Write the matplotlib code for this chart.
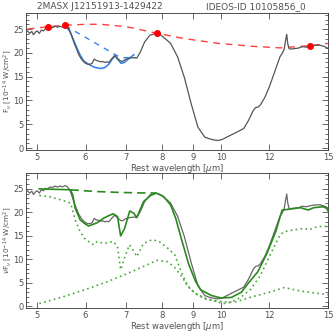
import numpy as np
import matplotlib
matplotlib.use("Agg")
import matplotlib.pyplot as plt
from matplotlib.ticker import MultipleLocator, NullLocator, FixedLocator, FixedFormatter

# ---- data ----
spec_wave = [4.82, 4.86, 4.90, 4.93, 4.97, 5.00, 5.04, 5.08, 5.12, 5.16, 5.20, 5.25, 5.30, 5.35,
             5.40, 5.45, 5.50, 5.55, 5.60, 5.65, 5.70, 5.75, 5.80, 5.85, 5.90, 5.95, 6.00, 6.05,
             6.10, 6.15, 6.20, 6.25, 6.30, 6.35, 6.40, 6.45, 6.50, 6.55, 6.60, 6.65, 6.70, 6.75,
             6.80, 6.85, 6.90, 6.95, 7.00, 7.10, 7.20, 7.28, 7.38, 7.50, 7.65, 7.83, 7.98, 8.10,
             8.27, 8.49, 8.71, 8.94, 9.17, 9.41, 9.60, 9.75, 9.90, 10.05, 10.30, 10.60, 10.90, 11.10,
             11.30, 11.40, 11.50, 11.60, 11.80, 12.00, 12.25, 12.50, 12.62, 12.70, 12.76, 12.82, 12.87,
             12.93, 13.00, 13.20, 13.40, 13.60, 13.80, 14.00, 14.30, 14.55, 14.80, 15.00]
spec_flux = [24.6, 24.1, 24.5, 23.8, 24.4, 24.6, 24.1, 24.8, 24.6, 25.1, 25.0, 25.4, 25.3, 25.6,
             25.4, 25.6, 25.4, 25.7, 25.5, 24.8, 23.5, 22.0, 20.8, 19.6, 18.8, 18.2, 17.8, 17.6,
             17.6, 17.8, 18.7, 18.4, 18.3, 18.1, 18.2, 18.0, 18.1, 18.0, 18.5, 19.0, 19.4, 19.0,
             18.6, 18.3, 18.2, 18.5, 18.7, 18.9, 19.0, 18.9, 20.2, 22.3, 23.7, 24.1, 23.7, 23.0,
             22.0, 19.2, 14.9, 9.3, 4.4, 2.3, 1.9, 1.7, 1.6, 1.8, 2.5, 3.3, 4.1, 5.8,
             7.9, 8.5, 8.6, 9.0, 10.6, 12.8, 16.0, 19.2, 20.0, 20.8, 22.5, 23.9, 22.0,
             20.9, 20.8, 20.9, 21.0, 21.3, 21.2, 21.4, 21.6, 21.6, 21.3, 20.9]

cont_wave = [4.82, 5.21, 5.56, 6.0, 6.35, 7.0, 7.87, 8.71, 9.9, 11.2, 12.5, 14.0, 15.0]
cont_flux = [25.0, 25.5, 25.8, 26.0, 26.0, 25.5, 24.1, 23.0, 22.0, 21.4, 21.05, 21.5, 22.0]
pivot_wave = [5.21, 5.56, 7.87, 14.0]
pivot_flux = [25.5, 25.8, 24.1, 21.5]

ice_wave = [5.56, 5.65, 5.72, 5.80, 5.88, 5.96, 6.07, 6.20, 6.35, 6.45, 6.55, 6.62, 6.70, 6.78,
            6.86, 6.95, 7.05, 7.20]
ice_flux = [25.7, 24.6, 23.0, 21.2, 19.5, 18.3, 17.6, 17.0, 16.7, 16.9, 17.6, 18.5, 19.4, 18.6,
            17.8, 18.0, 18.7, 19.6]
icecont_wave = [5.56, 6.70, 6.85, 7.25]
icecont_flux = [25.7, 19.7, 19.0, 19.0]

model_wave = [5.04, 5.67, 5.72, 5.77, 5.88, 6.00, 6.07, 6.13, 6.27, 6.43, 6.55, 6.66, 6.77, 6.85,
              6.95, 7.09, 7.20, 7.28, 7.47, 7.67, 7.83, 8.05, 8.27, 8.43, 8.64, 8.86, 9.09, 9.27,
              9.66, 10.0, 10.4, 10.8, 11.1, 11.5, 11.9, 12.3, 12.6, 13.0, 13.5, 13.9, 14.2, 14.7,
              14.9, 15.0]
model_flux = [25.0, 24.8, 23.6, 20.9, 18.4, 17.5, 17.1, 17.3, 17.8, 18.8, 19.3, 19.7, 19.1, 15.0,
              16.5, 20.3, 19.8, 18.9, 22.3, 23.6, 24.1, 23.4, 21.6, 18.8, 13.8, 8.9, 5.3, 3.5,
              2.3, 1.8, 1.9, 3.0, 5.0, 7.4, 11.3, 15.9, 20.5, 20.7, 21.0, 20.5, 21.0, 21.2,
              20.9, 20.2]
mcont_wave = [5.67, 6.2, 6.8, 7.3, 7.83]
mcont_flux = [24.8, 24.45, 24.25, 24.15, 24.1]

abs_wave = [5.04, 5.25, 5.45, 5.67, 5.70, 5.77, 5.88, 6.00, 6.19, 6.27, 6.43, 6.66, 6.77, 6.85,
            6.95, 7.08, 7.20, 7.28, 7.47, 7.72, 7.92, 8.18, 8.40, 8.60, 8.80, 9.05, 9.40, 9.78,
            10.1, 10.4, 10.8, 11.2, 11.6, 12.1, 12.5, 12.7, 13.2, 13.7, 13.95, 14.4, 14.85, 15.0]
abs_flux = [23.6, 23.3, 22.7, 22.0, 20.9, 18.4, 15.9, 14.2, 13.1, 13.8, 13.4, 13.8, 12.8, 7.8,
            10.3, 13.1, 11.7, 10.6, 13.4, 14.2, 13.8, 12.4, 11.0, 7.5, 4.6, 2.9, 1.8, 1.1,
            0.6, 0.9, 2.0, 3.7, 6.5, 11.5, 15.2, 15.9, 16.3, 16.6, 16.3, 17.0, 17.0, 16.6]

pah_wave = [5.04, 5.5, 6.0, 6.5, 7.0, 7.5, 7.85, 8.18, 8.40, 8.64, 8.85, 9.09, 9.41, 9.9,
            10.3, 10.6, 11.3, 12.0, 12.7, 13.6, 14.8, 15.0]
pah_flux = [0.6, 2.0, 3.6, 5.2, 6.9, 8.6, 9.8, 9.5, 8.3, 6.2, 4.1, 2.7, 1.6, 1.1,
            0.9, 1.0, 2.1, 3.0, 4.0, 3.2, 2.6, 2.5]

xticks = [5, 6, 7, 8, 9, 10, 12, 15]
title_left = "2MASX J12151913-1429422"
title_right = "IDEOS-ID 10105856_0"

# ---- figure ----
fig = plt.figure(figsize=(3.34, 3.34), dpi=100)
txtc = "#505050"
plt.rcParams['font.family'] = ['DejaVu Sans']
fs = 6

ax1 = fig.add_axes([0.079, 0.551, 0.904, 0.409])
ax2 = fig.add_axes([0.079, 0.077, 0.904, 0.404])

def style(ax, ylabel):
    ax.set_xscale('log')
    ax.set_xlim(4.8, 15.0)
    ax.set_ylim(-0.4, 28.3)
    ax.xaxis.set_major_locator(FixedLocator(xticks))
    ax.xaxis.set_major_formatter(FixedFormatter([str(t) for t in xticks]))
    ax.xaxis.set_minor_locator(NullLocator())
    ax.yaxis.set_major_locator(MultipleLocator(5))
    ax.yaxis.set_minor_locator(MultipleLocator(1))
    ax.tick_params(which='both', direction='in', top=True, right=True, labelsize=fs,
                   colors=txtc, width=0.6, pad=2)
    ax.tick_params(which='major', length=4)
    ax.tick_params(which='minor', length=2)
    for s in ax.spines.values():
        s.set_linewidth(0.6)
        s.set_color('#333333')
    ax.set_xlabel("Rest wavelength [$\\mu$m]", fontsize=fs, color=txtc, labelpad=0)
    ax.set_ylabel(ylabel, fontsize=5.2, color=txtc)
    ax.yaxis.set_label_coords(-0.042, 0.5)

gray = '#555555'
# top panel
ax1.plot(spec_wave, spec_flux, color=gray, lw=0.9, zorder=3)
ax1.plot(cont_wave, cont_flux, color='#ff4040', lw=1.0, ls=(0, (5, 4)), zorder=2)
ax1.plot(icecont_wave, icecont_flux, color='#3a84e8', lw=1.0, ls=(0, (4, 4)), zorder=2)
ax1.plot(ice_wave, ice_flux, color='#3a84e8', lw=1.2, zorder=2)
ax1.plot(pivot_wave, pivot_flux, 'o', color='red', ms=4, zorder=4)
style(ax1, "F$_\\nu$ [10$^{-14}$ W/cm$^2$]")

# bottom panel
green = '#2a8a1e'
ax2.plot(spec_wave, spec_flux, color='#666666', lw=0.9, zorder=2)
ax2.plot(model_wave, model_flux, color=green, lw=1.2, zorder=3)
ax2.plot(mcont_wave, mcont_flux, color=green, lw=1.2, ls=(0, (5, 3)), zorder=3)
ax2.plot(abs_wave, abs_flux, color='#48a83a', lw=1.2, ls=(0, (1, 2)), zorder=2)
ax2.plot(pah_wave, pah_flux, color='#48a83a', lw=1.2, ls=(0, (1, 2)), zorder=2)
style(ax2, "$\\nu$F$_\\nu$ [10$^{-14}$ W/cm$^2$]")

fig.text(0.30, 0.981, title_left, fontsize=fs + 0.5, color=txtc, ha='center', va='center')
fig.text(0.765, 0.981, title_right, fontsize=fs + 0.5, color=txtc, ha='center', va='center')

fig.savefig("out.png", dpi=100)
